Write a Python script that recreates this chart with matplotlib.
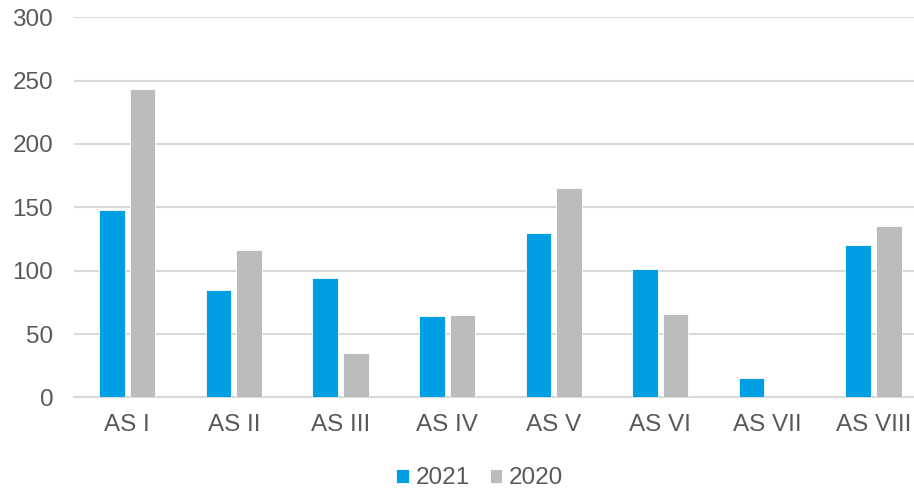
import matplotlib
matplotlib.use("Agg")
import matplotlib.pyplot as plt
import numpy as np

categories = ["AS I", "AS II", "AS III", "AS IV", "AS V", "AS VI", "AS VII", "AS VIII"]
values_2021 = [148, 85, 94, 64, 130, 101, 15, 120]
values_2020 = [243, 116, 35, 65, 165, 66, 0, 135]
yticks = [0, 50, 100, 150, 200, 250, 300]

plt.rcParams['font.family'] = ['Liberation Sans', 'DejaVu Sans']

fig = plt.figure(figsize=(9.14, 4.90), dpi=100)
ax = fig.add_axes([0.081, 0.189, 0.933, 0.776])

x = np.arange(len(categories))
w = 0.24
off = 0.144
blue = "#009FE3"
gray = "#BBBCBE"
ax.bar(x - off, values_2021, w, color=blue, edgecolor="white", linewidth=0.6, label="2021", zorder=3)
ax.bar(x + off, values_2020, w, color=gray, edgecolor="white", linewidth=0.6, label="2020", zorder=3)

ax.set_xlim(-0.5, len(categories) - 0.5)
ax.set_ylim(0, 300)
ax.set_yticks(yticks)
ax.set_xticks(x)
ax.set_xticklabels(categories)
ax.yaxis.grid(True, color="#D9D9D9", linewidth=1.5, zorder=0)
ax.set_axisbelow(True)
for s in ["top", "right", "left"]:
    ax.spines[s].set_visible(False)
ax.spines["bottom"].set_color("#D9D9D9")
ax.spines["bottom"].set_linewidth(1.5)
ax.tick_params(axis="both", length=0, labelsize=17.5, colors="#595959")
ax.tick_params(axis="y", pad=15)
ax.tick_params(axis="x", pad=12)

leg = fig.legend(loc="center", bbox_to_anchor=(0.525, 0.024), ncol=2, frameon=False,
                 fontsize=17.5, handlelength=0.5, handleheight=0.5, handletextpad=0.3,
                 columnspacing=0.8, borderpad=0.2)
for t in leg.get_texts():
    t.set_color("#595959")

fig.savefig("out.png", dpi=100)
